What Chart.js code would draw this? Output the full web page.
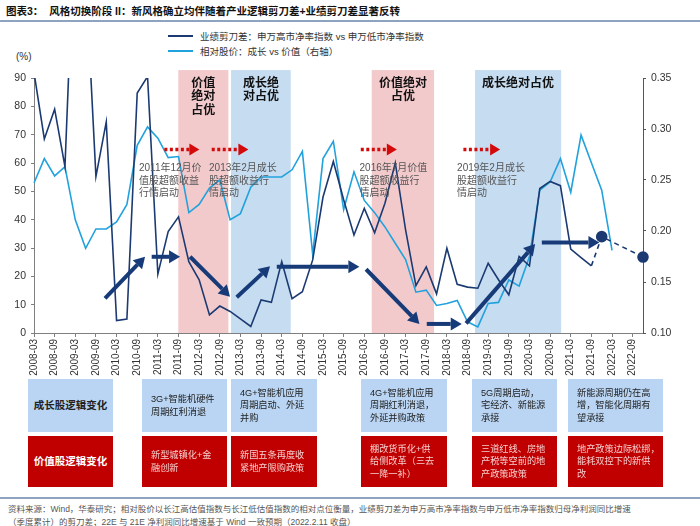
<!DOCTYPE html>
<html>
<head>
<meta charset="utf-8">
<script src="https://cdn.jsdelivr.net/npm/chart.js@4.4.1/dist/chart.umd.min.js"></script>
<style>
  body { margin: 0; background: #fff; }
  #wrap { position: relative; width: 700px; height: 526px; overflow: hidden; font-family: "Liberation Sans", "Noto Sans CJK SC", sans-serif; color: #222; }
  #chartBox { position: absolute; left: 0; top: 0; width: 700px; height: 385px; }
  .title { position: absolute; left: 6px; top: 3px; font-size: 10.5px; font-weight: bold; color: #111; white-space: nowrap; }
  .rule { position: absolute; left: 0; width: 700px; height: 1.5px; background: #8da3bf; }
  .sw { position: absolute; left: 168px; width: 25px; height: 2px; }
  .lg { position: absolute; left: 200px; font-size: 9.5px; color: #333; white-space: nowrap; }
  .unit { position: absolute; left: 16px; top: 51px; font-size: 10px; color: #333; }
  .box { position: absolute; display: flex; align-items: center; box-sizing: border-box; padding: 0 0 0 9px; font-size: 9.2px; line-height: 12.5px; white-space: nowrap; }
  .blue { background: #b9d5f3; color: #222; }
  .red { background: #c00000; color: #f6d0d0; }
  .head { justify-content: center; padding: 0; font-weight: bold; font-size: 10.5px; }
  .red.head { color: #fff; }
  .foot { position: absolute; left: 8px; font-size: 8.5px; color: #555; white-space: nowrap; }
</style>
</head>
<body>
<div id="wrap">
  <div class="title">图表3：&nbsp;&nbsp;风格切换阶段 II：新风格确立均伴随着产业逻辑剪刀差+业绩剪刀差显著反转</div>
  <div class="rule" style="top:20px"></div>

  <div class="sw" style="top:35px; background:#1c3a72"></div>
  <div class="lg" style="top:29px">业绩剪刀差：申万高市净率指数 vs 申万低市净率指数</div>
  <div class="sw" style="top:50px; background:#22a2dd"></div>
  <div class="lg" style="top:44px">相对股价：成长 vs 价值（右轴）</div>
  <div class="unit">(%)</div>

  <div id="chartBox"><canvas id="grafico"></canvas></div>

  <!-- linha de cima: logica do crescimento -->
  <div class="box blue head" style="left:28px; top:379px; width:85px; height:53px">成长股逻辑变化</div>
  <div class="box blue" style="left:142px; top:379px; width:85px; height:53px">3G+智能机硬件<br>周期红利消退</div>
  <div class="box blue" style="left:231px; top:379px; width:86px; height:53px">4G+智能机应用<br>周期启动、外延<br>并购</div>
  <div class="box blue" style="left:361px; top:379px; width:86px; height:53px">4G+智能机应用<br>周期红利消退，<br>外延并购政策</div>
  <div class="box blue" style="left:472px; top:379px; width:85px; height:53px">5G周期启动，<br>宅经济、新能源<br>承接</div>
  <div class="box blue" style="left:568px; top:379px; width:95px; height:53px">新能源周期仍在高<br>增，智能化周期有<br>望承接</div>

  <!-- linha de baixo: logica do valor -->
  <div class="box red head" style="left:28px; top:436px; width:85px; height:51px">价值股逻辑变化</div>
  <div class="box red" style="left:142px; top:436px; width:85px; height:51px">新型城镇化+金<br>融创新</div>
  <div class="box red" style="left:231px; top:436px; width:86px; height:51px">新国五条再度收<br>紧地产限购政策</div>
  <div class="box red" style="left:361px; top:436px; width:86px; height:51px">棚改货币化+供<br>给侧改革（三去<br>一降一补）</div>
  <div class="box red" style="left:472px; top:436px; width:85px; height:51px">三道红线、房地<br>产税等空前的地<br>产政策政策</div>
  <div class="box red" style="left:568px; top:436px; width:95px; height:51px">地产政策边际松绑，<br>能耗双控下的新供<br>改</div>

  <div class="rule" style="top:497px"></div>
  <div class="foot" style="top:502px">资料来源：Wind，华泰研究；相对股价以长江高估值指数与长江低估值指数的相对点位衡量，业绩剪刀差为申万高市净率指数与申万低市净率指数归母净利润同比增速</div>
  <div class="foot" style="top:515px">（季度累计）的剪刀差；22E 与 21E 净利润同比增速基于 Wind 一致预期（2022.2.11 收盘）</div>
</div>

<script>
// Trimestres (eixo X)
const trimestres = [
  '2008-03','2008-06','2008-09','2008-12','2009-03','2009-06','2009-09','2009-12',
  '2010-03','2010-06','2010-09','2010-12','2011-03','2011-06','2011-09','2011-12',
  '2012-03','2012-06','2012-09','2012-12','2013-03','2013-06','2013-09','2013-12',
  '2014-03','2014-06','2014-09','2014-12','2015-03','2015-06','2015-09','2015-12',
  '2016-03','2016-06','2016-09','2016-12','2017-03','2017-06','2017-09','2017-12',
  '2018-03','2018-06','2018-09','2018-12','2019-03','2019-06','2019-09','2019-12',
  '2020-03','2020-06','2020-09','2020-12','2021-03','2021-06','2021-09','2021-12',
  '2022-03','2022-06','2022-09','2022-12'
];

// 业绩剪刀差 (%), eixo esquerdo
const tesouraLucro = [
  92, 68.5, 79, 58.7, 150, 127, 55.2, 74.5, 4.4, 4.9,
  84.7, 90.5, 20.8, 35.8, 41, 25.2, 18.8, 6.4, 9.5, 7.6,
  5.0, 2.3, 11.7, 10.8, 25.2, 12.1, 14.6, 25.8, 48, 60.5,
  47, 34.6, 44, 35.4, 45.8, 60, 36.4, 16.7, 23.3, 13.8,
  29.9, 17.2, 16.2, 15.8, 24.6, 18.8, 13.5, 27, 23.7, 51,
  53.5, 52, 29.6, 26.6, 23.7, null, null, null, null, null
];

// Previsao 21E / 22E (linha tracejada)
const tesouraPrevisao = [
  null, null, null, null, null, null, null, null, null, null,
  null, null, null, null, null, null, null, null, null, null,
  null, null, null, null, null, null, null, null, null, null,
  null, null, null, null, null, null, null, null, null, null,
  null, null, null, null, null, null, null, null, null, null,
  null, null, null, null, 23.7, 34, null, null, null, 26.8
];

// 相对股价：成长 vs 价值, eixo direito
const precoRelativo = [
  0.247, 0.271, 0.254, 0.263, 0.211, 0.183, 0.202, 0.202, 0.209, 0.226,
  0.284, 0.302, 0.291, 0.272, 0.273, 0.218, 0.226, 0.242, 0.250, 0.211,
  0.217, 0.243, 0.253, 0.253, 0.253, 0.260, 0.278, 0.177, 0.271, 0.288,
  0.221, 0.258, 0.230, 0.218, 0.204, 0.188, 0.172, 0.140, 0.142, 0.127,
  0.129, 0.132, 0.111, 0.106, 0.129, 0.130, 0.152, 0.146, 0.175, 0.240,
  0.248, 0.271, 0.238, 0.294, 0.267, 0.240, 0.181, null, null, null
];

// Periodos sombreados (indice de trimestre)
const periodos = [
  { de: 13.98, ate: 18.83, tipo: 'valor', texto: ['价值', '绝对', '占优'] },
  { de: 19.09, ate: 24.87, tipo: 'cresc', texto: ['成长绝', '对占优'] },
  { de: 32.72, ate: 38.76, tipo: 'valor', texto: ['价值绝对', '占优'] },
  { de: 42.73, ate: 51.07, tipo: 'cresc', texto: ['成长绝对占优'] }
];

// Textos dos eventos
const eventos = [
  { q: 10.17, linhas: ['2011年12月价', '值股超额收益', '行情启动'] },
  { q: 16.96, linhas: ['2013年2月成长', '股超额收益行', '情启动'] },
  { q: 31.54, linhas: ['2016年7月价值', '股超额收益行', '情启动'] },
  { q: 40.99, linhas: ['2019年2月成长', '股超额收益行', '情启动'] }
];

// Setas vermelhas pontilhadas (inicio, fim) no nivel y
const setasVermelhas = [[12.63, 16.02], [17.22, 20.77], [31.66, 35.15], [41.6, 45.16]];

// Setas azuis grossas [q0, y0, q1, y1]
const setasAzuis = [
  [6.88, 12.25, 10.76, 26.9],
  [11.4, 26.9, 14.15, 26.9],
  [15.12, 26.9, 18.99, 12.8],
  [19.64, 12.6, 22.87, 23.6],
  [23.52, 23.4, 31.52, 23.4],
  [32.17, 22.5, 37.34, 3.2],
  [38.05, 3.2, 41.44, 3.2],
  [41.86, 3.4, 48.55, 31.4],
  [49.2, 31.9, 54.78, 31.9]
];

const azulEscuro = '#1c3a72';
const azulClaro = '#22a2dd';
const fonteCJK = '"Noto Sans CJK SC", sans-serif';

function seta(ctx, x0, y0, x1, y1, cor, largura, cabeca, meia) {
    const ang = Math.atan2(y1 - y0, x1 - x0);
    const hx = x1 - cabeca * Math.cos(ang), hy = y1 - cabeca * Math.sin(ang);
    ctx.strokeStyle = cor;
    ctx.lineWidth = largura;
    ctx.beginPath(); ctx.moveTo(x0, y0); ctx.lineTo(hx, hy); ctx.stroke();
    ctx.setLineDash([]);
    ctx.fillStyle = cor;
    ctx.beginPath();
    ctx.moveTo(x1, y1);
    ctx.lineTo(hx + meia * Math.sin(ang), hy - meia * Math.cos(ang));
    ctx.lineTo(hx - meia * Math.sin(ang), hy + meia * Math.cos(ang));
    ctx.closePath(); ctx.fill();
}

// Plugin: sombreamento por baixo das linhas
const pluginSombra = {
    id: 'sombra',
    beforeDatasetsDraw(chart) {
        const ctx = chart.ctx, x = chart.scales.x, y = chart.scales.y;
        const topo = y.getPixelForValue(92.8), base = y.getPixelForValue(0);
        ctx.save();
        periodos.forEach(p => {
            const x0 = x.getPixelForValue(p.de), x1 = x.getPixelForValue(p.ate);
            ctx.fillStyle = p.tipo === 'valor' ? '#f3cacc' : '#c6dcf1';
            ctx.fillRect(x0, topo, x1 - x0, base - topo);
        });
        ctx.restore();
    },
    afterDatasetsDraw(chart) {
        const ctx = chart.ctx, x = chart.scales.x, y = chart.scales.y;
        const area = chart.chartArea;
        ctx.save();
        // rotulos dos periodos
        ctx.font = 'bold 12px ' + fonteCJK;
        ctx.fillStyle = '#111';
        ctx.textAlign = 'center';
        ctx.textBaseline = 'middle';
        periodos.forEach(p => {
            const cx = x.getPixelForValue((p.de + p.ate) / 2);
            p.texto.forEach((t, i) => ctx.fillText(t, cx, area.top + 4 + i * 13.5));
        });
        // textos dos eventos
        ctx.font = '10px "Liberation Sans", ' + fonteCJK;
        ctx.fillStyle = '#555';
        ctx.textAlign = 'left';
        eventos.forEach(e => {
            const ex = x.getPixelForValue(e.q);
            e.linhas.forEach((t, i) => ctx.fillText(t, ex, y.getPixelForValue(58.1) + i * 12.5));
        });
        // setas vermelhas
        const ny = y.getPixelForValue(64.8);
        setasVermelhas.forEach(s => {
            ctx.setLineDash([3, 2.5]);
            seta(ctx, x.getPixelForValue(s[0]), ny, x.getPixelForValue(s[1]), ny, '#d40a0a', 3.5, 10, 6);
        });
        // setas azuis
        setasAzuis.forEach(s => {
            ctx.setLineDash([]);
            seta(ctx, x.getPixelForValue(s[0]), y.getPixelForValue(s[1]),
                 x.getPixelForValue(s[2]), y.getPixelForValue(s[3]), '#173a78', 4, 11, 6.5);
        });
        ctx.restore();
    }
};

const fonteEixo = { family: '"Liberation Sans", Arial, sans-serif', size: 10.5 };

var ctx = document.getElementById('grafico').getContext('2d');
var grafico = new Chart(ctx, {
    type: 'line',
    data: {
        labels: trimestres,
        datasets: [
            {
                label: '业绩剪刀差：申万高市净率指数 vs 申万低市净率指数',
                data: tesouraLucro,
                yAxisID: 'y',
                borderColor: azulEscuro,
                borderWidth: 1.6,
                pointRadius: 0,
                tension: 0,
                spanGaps: false
            },
            {
                label: '预测',
                data: tesouraPrevisao,
                yAxisID: 'y',
                borderColor: azulEscuro,
                borderWidth: 1.6,
                borderDash: [5, 4],
                spanGaps: true,
                pointRadius: c => (c.dataIndex >= 55 ? 5 : 0),
                pointBackgroundColor: azulEscuro,
                pointBorderColor: azulEscuro
            },
            {
                label: '相对股价：成长 vs 价值（右轴）',
                data: precoRelativo,
                yAxisID: 'y1',
                borderColor: azulClaro,
                borderWidth: 1.6,
                pointRadius: 0,
                tension: 0
            }
        ]
    },
    options: {
        responsive: true,
        maintainAspectRatio: false,
        animation: false,
        layout: { padding: { top: 78, left: 0, right: 0, bottom: 0 } },
        plugins: { legend: { display: false }, tooltip: { enabled: false } },
        scales: {
            x: {
                type: 'category',
                offset: false,
                grid: {
                    drawOnChartArea: false,
                    tickLength: 4,
                    color: c => (c.index % 2 === 0 ? '#7f7f7f' : 'rgba(0,0,0,0)')
                },
                border: { color: '#7f7f7f' },
                ticks: {
                    autoSkip: false,
                    maxRotation: 90,
                    minRotation: 90,
                    padding: 2,
                    color: '#333',
                    font: { family: fonteEixo.family, size: 10 },
                    callback: function (v, i) { return i % 2 === 0 ? this.getLabelForValue(v) : ''; }
                },
                afterFit: s => { s.height = 52; }
            },
            y: {
                position: 'left',
                min: 0,
                max: 90,
                ticks: { stepSize: 10, color: '#333', font: fonteEixo, padding: 5 },
                grid: { drawOnChartArea: false, tickLength: 3, color: '#7f7f7f' },
                border: { color: '#7f7f7f' },
                afterFit: s => { s.width = 34; }
            },
            y1: {
                position: 'right',
                min: 0.10,
                max: 0.35,
                ticks: {
                    stepSize: 0.05, color: '#333', font: fonteEixo, padding: 5,
                    callback: v => v.toFixed(2)
                },
                grid: { drawOnChartArea: false, tickLength: 3, color: '#555' },
                border: { color: '#555' },
                afterFit: s => { s.width = 57; }
            }
        }
    },
    plugins: [pluginSombra]
});
</script>
</body>
</html>
